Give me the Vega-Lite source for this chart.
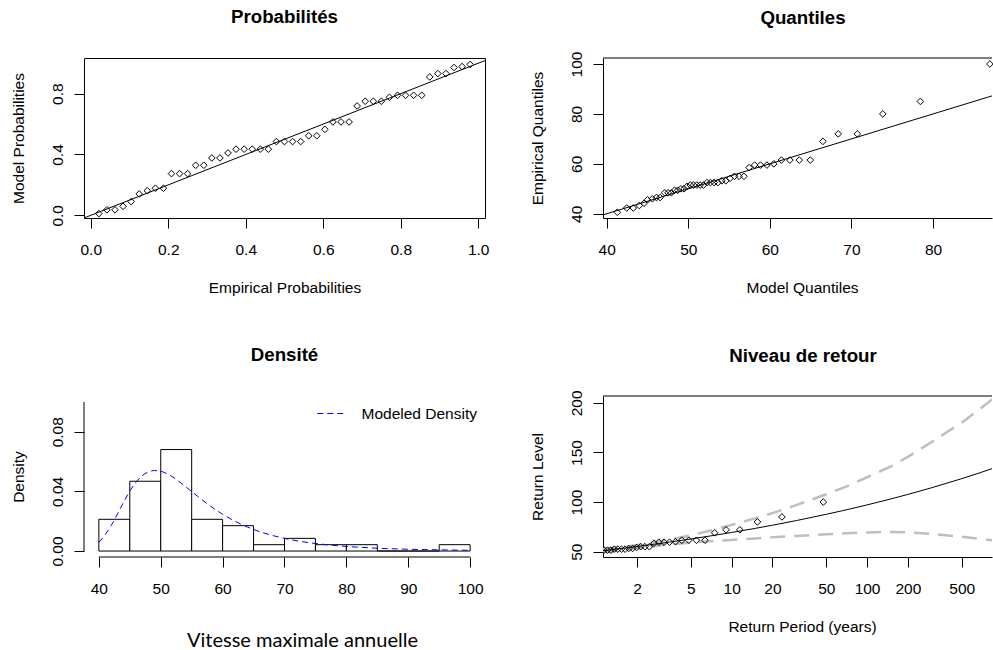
{
  "$schema": "https://vega.github.io/schema/vega-lite/v6.json",
  "background": "white",
  "padding": {"left": 10, "top": 7, "right": 0, "bottom": 0},
  "autosize": {"type": "pad"},
  "bounds": "flush",
  "columns": 2,
  "align": "all",
  "spacing": {"row": 177, "column": 118},
  "config": {
    "view": {"stroke": null},
    "font": "Liberation Sans",
    "axis": {
      "grid": false,
      "labelFont": "Liberation Sans", "labelFontSize": 15.5, "labelColor": "black",
      "titleFont": "Liberation Sans", "titleFontSize": 15.5, "titleFontWeight": "normal", "titleColor": "black",
      "tickColor": "black", "tickSize": 10, "tickWidth": 1,
      "domainColor": "black", "domainWidth": 1,
      "labelOverlap": false, "labelFlush": false, "labelBound": false
    },
    "axisX": {"labelAngle": 0, "labelAlign": "center", "labelBaseline": "alphabetic", "labelPadding": 26, "titleBaseline": "alphabetic", "titleY": 74, "titleAlign": "center"},
    "axisY": {"labelAngle": -90, "labelAlign": "center", "labelBaseline": "alphabetic", "labelPadding": 11.5, "titleAngle": -90, "titleBaseline": "alphabetic", "titleX": -61, "titleAlign": "center"},
    "title": {"font": "Liberation Sans", "fontSize": 18.7, "fontWeight": "bold", "color": "black", "baseline": "alphabetic", "frame": "group", "anchor": "middle"}
  },
  "datasets": {
    "prob": [
      {"empirical": 0.0208, "model": 0.011}, {"empirical": 0.0417, "model": 0.036}, {"empirical": 0.0625, "model": 0.036},
      {"empirical": 0.0833, "model": 0.059}, {"empirical": 0.1042, "model": 0.090}, {"empirical": 0.125, "model": 0.140},
      {"empirical": 0.1458, "model": 0.162}, {"empirical": 0.1667, "model": 0.178}, {"empirical": 0.1875, "model": 0.178},
      {"empirical": 0.2083, "model": 0.274}, {"empirical": 0.2292, "model": 0.274}, {"empirical": 0.25, "model": 0.274},
      {"empirical": 0.2708, "model": 0.329}, {"empirical": 0.2917, "model": 0.329}, {"empirical": 0.3125, "model": 0.377},
      {"empirical": 0.3333, "model": 0.377}, {"empirical": 0.3542, "model": 0.410}, {"empirical": 0.375, "model": 0.435},
      {"empirical": 0.3958, "model": 0.435}, {"empirical": 0.4167, "model": 0.435}, {"empirical": 0.4375, "model": 0.435},
      {"empirical": 0.4583, "model": 0.435}, {"empirical": 0.4792, "model": 0.485}, {"empirical": 0.5, "model": 0.485},
      {"empirical": 0.5208, "model": 0.485}, {"empirical": 0.5417, "model": 0.485}, {"empirical": 0.5625, "model": 0.523},
      {"empirical": 0.5833, "model": 0.523}, {"empirical": 0.6042, "model": 0.565}, {"empirical": 0.625, "model": 0.614},
      {"empirical": 0.6458, "model": 0.614}, {"empirical": 0.6667, "model": 0.614}, {"empirical": 0.6875, "model": 0.719},
      {"empirical": 0.7083, "model": 0.750}, {"empirical": 0.7292, "model": 0.750}, {"empirical": 0.75, "model": 0.750},
      {"empirical": 0.7708, "model": 0.776}, {"empirical": 0.7917, "model": 0.789}, {"empirical": 0.8125, "model": 0.789},
      {"empirical": 0.8333, "model": 0.789}, {"empirical": 0.8542, "model": 0.789}, {"empirical": 0.875, "model": 0.910},
      {"empirical": 0.8958, "model": 0.932}, {"empirical": 0.9167, "model": 0.932}, {"empirical": 0.9375, "model": 0.972},
      {"empirical": 0.9583, "model": 0.978}, {"empirical": 0.9792, "model": 0.992}
    ],
    "qq": [
      {"model": 41.3, "empirical": 40.6}, {"model": 42.45, "empirical": 42.3}, {"model": 43.26, "empirical": 42.3},
      {"model": 44.0, "empirical": 43.3}, {"model": 44.57, "empirical": 44.2}, {"model": 45.0, "empirical": 45.6},
      {"model": 45.6, "empirical": 46.0}, {"model": 46.1, "empirical": 46.5}, {"model": 46.55, "empirical": 46.5},
      {"model": 47.12, "empirical": 48.4}, {"model": 47.53, "empirical": 48.4}, {"model": 47.93, "empirical": 48.4},
      {"model": 48.32, "empirical": 49.4}, {"model": 48.70, "empirical": 49.4}, {"model": 49.09, "empirical": 50.0},
      {"model": 49.48, "empirical": 50.0}, {"model": 49.86, "empirical": 51.0}, {"model": 50.25, "empirical": 51.5},
      {"model": 50.65, "empirical": 51.5}, {"model": 51.05, "empirical": 51.5}, {"model": 51.45, "empirical": 51.5},
      {"model": 51.87, "empirical": 51.5}, {"model": 52.29, "empirical": 52.5}, {"model": 52.72, "empirical": 52.5},
      {"model": 53.17, "empirical": 52.5}, {"model": 53.63, "empirical": 52.5}, {"model": 54.11, "empirical": 53.2},
      {"model": 54.60, "empirical": 53.2}, {"model": 55.12, "empirical": 54.2}, {"model": 55.65, "empirical": 55.0},
      {"model": 56.22, "empirical": 55.0}, {"model": 56.82, "empirical": 55.0}, {"model": 57.45, "empirical": 58.5},
      {"model": 58.13, "empirical": 59.5}, {"model": 58.85, "empirical": 59.5}, {"model": 59.63, "empirical": 59.5},
      {"model": 60.48, "empirical": 60.0}, {"model": 61.41, "empirical": 61.5}, {"model": 62.45, "empirical": 61.5},
      {"model": 63.61, "empirical": 61.5}, {"model": 64.95, "empirical": 61.5}, {"model": 66.50, "empirical": 69.0},
      {"model": 68.38, "empirical": 72.0}, {"model": 70.72, "empirical": 72.0}, {"model": 73.84, "empirical": 80.0},
      {"model": 78.44, "empirical": 85.0}, {"model": 86.96, "empirical": 100.0}
    ],
    "hist": [
      {"lo": 40, "hi": 45, "density": 0.02128}, {"lo": 45, "hi": 50, "density": 0.04681},
      {"lo": 50, "hi": 55, "density": 0.06809}, {"lo": 55, "hi": 60, "density": 0.02128},
      {"lo": 60, "hi": 65, "density": 0.01702}, {"lo": 65, "hi": 70, "density": 0.00426},
      {"lo": 70, "hi": 75, "density": 0.00851}, {"lo": 75, "hi": 80, "density": 0.00426},
      {"lo": 80, "hi": 85, "density": 0.00426}, {"lo": 85, "hi": 90, "density": 0},
      {"lo": 90, "hi": 95, "density": 0}, {"lo": 95, "hi": 100, "density": 0.00426}
    ],
    "dens": [
      {"speed": 40, "density": 0.0058}, {"speed": 41, "density": 0.0108}, {"speed": 42, "density": 0.0172},
      {"speed": 43, "density": 0.0248}, {"speed": 44, "density": 0.0328}, {"speed": 45, "density": 0.0402},
      {"speed": 46, "density": 0.0462}, {"speed": 47, "density": 0.0505}, {"speed": 48, "density": 0.0531},
      {"speed": 49, "density": 0.0540}, {"speed": 50, "density": 0.0535}, {"speed": 51, "density": 0.0519},
      {"speed": 52, "density": 0.0495}, {"speed": 53, "density": 0.0465}, {"speed": 54, "density": 0.0433},
      {"speed": 55, "density": 0.0399}, {"speed": 56, "density": 0.0366}, {"speed": 58, "density": 0.0302},
      {"speed": 60, "density": 0.0247}, {"speed": 62, "density": 0.0200}, {"speed": 64, "density": 0.0161},
      {"speed": 66, "density": 0.0130}, {"speed": 68, "density": 0.0105}, {"speed": 70, "density": 0.0085},
      {"speed": 73, "density": 0.0062}, {"speed": 76, "density": 0.0046}, {"speed": 80, "density": 0.0031},
      {"speed": 85, "density": 0.0019}, {"speed": 90, "density": 0.0012}, {"speed": 95, "density": 0.0008},
      {"speed": 100, "density": 0.0005}
    ],
    "rl_fit": [
      {"period": 1.121, "level": 50.92, "upper": 52.6, "lower": 49.3},
      {"period": 1.3, "level": 51.97, "upper": 53.5, "lower": 50.5},
      {"period": 1.6, "level": 53.49, "upper": 54.9, "lower": 52.1},
      {"period": 2, "level": 55.18, "upper": 56.7, "lower": 53.7},
      {"period": 2.5, "level": 56.93, "upper": 58.7, "lower": 55.2},
      {"period": 3, "level": 58.41, "upper": 60.5, "lower": 56.4},
      {"period": 4, "level": 60.83, "upper": 63.7, "lower": 58.0},
      {"period": 5, "level": 62.79, "upper": 66.5, "lower": 59.2},
      {"period": 7, "level": 65.87, "upper": 71.3, "lower": 60.5},
      {"period": 10, "level": 69.33, "upper": 77.0, "lower": 61.8},
      {"period": 15, "level": 73.50, "upper": 83.7, "lower": 63.3},
      {"period": 20, "level": 76.64, "upper": 88.8, "lower": 64.5},
      {"period": 30, "level": 81.31, "upper": 96.9, "lower": 65.8},
      {"period": 50, "level": 87.64, "upper": 107.9, "lower": 67.5},
      {"period": 70, "level": 92.10, "upper": 115.6, "lower": 68.6},
      {"period": 100, "level": 97.10, "upper": 125.0, "lower": 69.4},
      {"period": 150, "level": 103.14, "upper": 136.0, "lower": 69.9},
      {"period": 200, "level": 107.67, "upper": 145.5, "lower": 69.6},
      {"period": 300, "level": 114.42, "upper": 160.5, "lower": 67.8},
      {"period": 500, "level": 123.57, "upper": 180.0, "lower": 65.0},
      {"period": 700, "level": 130.02, "upper": 195.0, "lower": 62.8},
      {"period": 837, "level": 133.7, "upper": 203.5, "lower": 61.6}
    ],
    "rl_obs": [
      {"period": 1.142, "level": 51.5}, {"period": 1.210, "level": 51.5}, {"period": 1.282, "level": 51.5},
      {"period": 1.359, "level": 52.5}, {"period": 1.443, "level": 52.5}, {"period": 1.533, "level": 52.5},
      {"period": 1.631, "level": 52.5}, {"period": 1.738, "level": 53.2}, {"period": 1.855, "level": 53.2},
      {"period": 1.985, "level": 54.2}, {"period": 2.128, "level": 55.0}, {"period": 2.287, "level": 55.0},
      {"period": 2.466, "level": 55.0}, {"period": 2.669, "level": 58.5}, {"period": 2.900, "level": 59.5},
      {"period": 3.166, "level": 59.5}, {"period": 3.476, "level": 59.5}, {"period": 3.842, "level": 60.0},
      {"period": 4.281, "level": 61.5}, {"period": 4.817, "level": 61.5}, {"period": 5.486, "level": 61.5},
      {"period": 6.349, "level": 61.5}, {"period": 7.491, "level": 69.0}, {"period": 9.091, "level": 72.0},
      {"period": 11.49, "level": 72.0}, {"period": 15.49, "level": 80.0}, {"period": 23.50, "level": 85.0},
      {"period": 47.50, "level": 100.0}
    ]
  },
  "concat": [
    {
      "width": 401, "height": 160,
      "title": {"text": "Probabilités", "offset": 31, "frame": "group"},
      "view": {"stroke": "black", "strokeWidth": 1},
      "layer": [
        {
          "data": {"name": "prob"},
          "mark": {"type": "point", "shape": "diamond", "size": 44, "filled": false, "color": "black", "strokeWidth": 1, "opacity": 1},
          "encoding": {
            "x": {"field": "empirical", "type": "quantitative",
                  "scale": {"domain": [-0.0175, 1.0175], "nice": false, "zero": false},
                  "axis": {"title": "Empirical Probabilities", "values": [0, 0.2, 0.4, 0.6, 0.8, 1], "format": ".1f", "domain": false}},
            "y": {"field": "model", "type": "quantitative",
                  "scale": {"domain": [-0.0178, 1.0345], "nice": false, "zero": false},
                  "axis": {"title": "Model Probabilities", "values": [0, 0.2, 0.4, 0.6, 0.8, 1], "format": ".1f", "domain": false,
                           "labelExpr": "indexof(['0.0', '0.4', '0.8'], datum.label) >= 0 ? datum.label : ''"}}
          }
        },
        {
          "data": {"values": [{}]},
          "mark": {"type": "rule", "color": "black", "strokeWidth": 1},
          "encoding": {
            "x": {"datum": -0.0175, "type": "quantitative"}, "y": {"datum": -0.0175, "type": "quantitative"},
            "x2": {"datum": 1.0175}, "y2": {"datum": 1.0175}
          }
        }
      ]
    },
    {
      "width": 389, "height": 160,
      "title": {"text": "Quantiles", "offset": 23, "dx": 5.5, "frame": "group"},
      "layer": [
        {
          "data": {"name": "qq"},
          "mark": {"type": "point", "shape": "diamond", "size": 44, "filled": false, "color": "black", "strokeWidth": 1, "opacity": 1},
          "encoding": {
            "x": {"field": "model", "type": "quantitative",
                  "scale": {"domain": [39.55, 87.22], "nice": false, "zero": false},
                  "axis": {"title": "Model Quantiles", "values": [40, 50, 60, 70, 80], "titleX": 199}},
            "y": {"field": "empirical", "type": "quantitative",
                  "scale": {"domain": [38.3, 102.4], "nice": false, "zero": false},
                  "axis": {"title": "Empirical Quantiles", "values": [40, 50, 60, 70, 80, 90, 100],
                           "labelExpr": "indexof(['40', '60', '80', '100'], datum.label) >= 0 ? datum.label : ''"}}
          }
        },
        {
          "data": {"values": [{}]},
          "mark": {"type": "rule", "color": "black", "strokeWidth": 1},
          "encoding": {
            "x": {"datum": 39.55, "type": "quantitative"}, "y": {"datum": 39.55, "type": "quantitative"},
            "x2": {"datum": 87.22}, "y2": {"datum": 87.22}
          }
        },
        {
          "data": {"values": [{}]},
          "mark": {"type": "rule", "color": "black", "strokeWidth": 1},
          "encoding": {"y": {"datum": 102.4, "type": "quantitative"}}
        }
      ]
    },
    {
      "width": 401, "height": 161,
      "title": {"text": "Densité", "offset": 31.5, "frame": "group"},
      "layer": [
        {
          "data": {"name": "hist"},
          "mark": {"type": "rect", "fill": "white", "stroke": "black", "strokeWidth": 1},
          "encoding": {
            "x": {"field": "lo", "type": "quantitative",
                  "scale": {"domain": [37.6, 102.4], "nice": false, "zero": false},
                  "axis": {"title": "Vitesse maximale annuelle", "values": [40, 50, 60, 70, 80, 90, 100], "domain": false,
                           "titleFont": "Lato", "titleFontSize": 20, "titleX": 218, "titleY": 89}},
            "x2": {"field": "hi"},
            "y": {"field": "density", "type": "quantitative",
                  "scale": {"domain": [-0.004, 0.104], "nice": false, "zero": false},
                  "axis": {"title": "Density", "values": [0, 0.02, 0.04, 0.06, 0.08, 0.1], "format": ".2f", "domain": false,
                           "labelExpr": "indexof(['0.00', '0.04', '0.08'], datum.label) >= 0 ? datum.label : ''"}},
            "y2": {"datum": 0}
          }
        },
        {
          "data": {"name": "dens"},
          "mark": {"type": "line", "strokeWidth": 1, "strokeDash": [6, 4], "interpolate": "monotone"},
          "encoding": {
            "x": {"field": "speed", "type": "quantitative"},
            "y": {"field": "density", "type": "quantitative"},
            "stroke": {"datum": "Modeled Density", "type": "nominal",
                       "scale": {"domain": ["Modeled Density"], "range": ["#0000ff"]},
                       "legend": {"title": null, "orient": "none", "legendX": 232.5, "legendY": 341.5,
                                  "symbolType": "stroke", "symbolDash": [6, 4], "symbolSize": 700, "symbolStrokeWidth": 1.2,
                                  "labelFont": "Liberation Sans", "labelFontSize": 15.5, "labelColor": "black",
                                  "labelOffset": 17, "padding": 0}}
          }
        },
        {
          "data": {"values": [{}]},
          "mark": {"type": "rule", "color": "black", "strokeWidth": 1},
          "encoding": {"x": {"datum": 40, "type": "quantitative"}, "x2": {"datum": 100}, "y": {"datum": -0.004, "type": "quantitative"}}
        },
        {
          "data": {"values": [{}]},
          "mark": {"type": "rule", "color": "black", "strokeWidth": 1},
          "encoding": {"x": {"datum": 37.6, "type": "quantitative"}, "y": {"datum": 0, "type": "quantitative"}, "y2": {"datum": 0.1}}
        }
      ]
    },
    {
      "width": 389, "height": 161,
      "title": {"text": "Niveau de retour", "offset": 24.5, "dx": 5.5, "frame": "group"},
      "layer": [
        {
          "data": {"name": "rl_fit"},
          "mark": {"type": "line", "color": "#bebebe", "strokeWidth": 2.5, "strokeDash": [15, 9], "clip": true},
          "encoding": {
            "x": {"field": "period", "type": "quantitative",
                  "scale": {"type": "log", "domain": [1.121, 837], "nice": false, "zero": false},
                  "axis": {"title": "Return Period (years)", "values": [2, 5, 10, 20, 50, 100, 200, 500], "format": "d", "titleX": 199}},
            "y": {"field": "upper", "type": "quantitative",
                  "scale": {"domain": [44.6, 206.9], "nice": false, "zero": false},
                  "axis": {"title": "Return Level", "values": [50, 100, 150, 200]}}
          }
        },
        {
          "data": {"name": "rl_fit"},
          "mark": {"type": "line", "color": "#bebebe", "strokeWidth": 2.5, "strokeDash": [15, 9], "clip": true},
          "encoding": {
            "x": {"field": "period", "type": "quantitative", "scale": {"type": "log", "domain": [1.121, 837], "nice": false, "zero": false}},
            "y": {"field": "lower", "type": "quantitative", "scale": {"domain": [44.6, 206.9], "nice": false, "zero": false}}
          }
        },
        {
          "data": {"name": "rl_fit"},
          "mark": {"type": "line", "color": "black", "strokeWidth": 1, "clip": true},
          "encoding": {
            "x": {"field": "period", "type": "quantitative", "scale": {"type": "log", "domain": [1.121, 837], "nice": false, "zero": false}},
            "y": {"field": "level", "type": "quantitative", "scale": {"domain": [44.6, 206.9], "nice": false, "zero": false}}
          }
        },
        {
          "data": {"name": "rl_obs"},
          "mark": {"type": "point", "shape": "diamond", "size": 44, "filled": false, "color": "black", "strokeWidth": 1, "opacity": 1, "clip": true},
          "encoding": {
            "x": {"field": "period", "type": "quantitative", "scale": {"type": "log", "domain": [1.121, 837], "nice": false, "zero": false}},
            "y": {"field": "level", "type": "quantitative", "scale": {"domain": [44.6, 206.9], "nice": false, "zero": false}}
          }
        },
        {
          "data": {"values": [{}]},
          "mark": {"type": "rule", "color": "black", "strokeWidth": 1},
          "encoding": {"y": {"datum": 206.9, "type": "quantitative"}}
        }
      ]
    }
  ]
}
